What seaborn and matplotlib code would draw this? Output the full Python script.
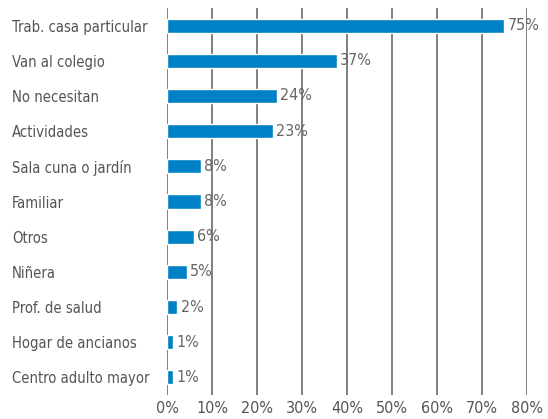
import pandas as pd
import numpy as np
import matplotlib.pyplot as plt
import matplotlib.ticker as plticker
import seaborn as sb

categories = ['Trab. casa particular', 'Van al colegio', 'No necesitan', 'Actividades',
              'Sala cuna o jardín', 'Familiar', 'Otros', 'Niñera', 'Prof. de salud',
              'Hogar de ancianos', 'Centro adulto mayor']
values = [74.9, 37.7, 24.4, 23.5, 7.5, 7.5, 5.9, 4.4, 2.3, 1.4, 1.4]
labels = ['75%', '37%', '24%', '23%', '8%', '8%', '6%', '5%', '2%', '1%', '1%']
ticks = [0, 10, 20, 30, 40, 50, 60, 70, 80]

myData = pd.DataFrame({'cat': categories, 'val': values})

sb.set_style('white')
plt.rcParams['font.family'] = ['DejaVu Sans']
plt.rcParams['font.stretch'] = 'condensed'

fig = plt.figure(figsize=(5.48, 4.19), dpi=100)
ax = fig.add_axes([167 / 548, 24 / 419, 360 / 548, 387 / 419])

sb.barplot(x='val', y='cat', data=myData, color='#0080c5', saturation=1,
           width=0.4, orient='h', ax=ax, zorder=3)

# value labels next to the bars
for i, (v, lab) in enumerate(zip(values, labels)):
    ax.text(v + 0.8, i, lab, va='center', ha='left', fontsize=11.5,
            color='#666666', zorder=4)

ax.set_xlim(0, 80)
ax.set_ylim(10.5, -0.5)
ax.set_xticks(ticks)
ax.xaxis.set_major_formatter(plticker.FuncFormatter(lambda x, p: '%d%%' % x))
ax.grid(axis='x', color='#7f7f7f', linewidth=1.4, zorder=0)
ax.grid(axis='y', visible=False)
for s in ax.spines.values():
    s.set_visible(False)
ax.tick_params(axis='both', length=0, labelcolor='#555555')
ax.tick_params(axis='y', labelsize=10.6, pad=155 * 0.72)
ax.tick_params(axis='x', labelsize=11.5, pad=4)
ax.set_xlabel('')
ax.set_ylabel('')
for t in ax.get_yticklabels():
    t.set_ha('left')

plt.savefig('out.png', dpi=100)
